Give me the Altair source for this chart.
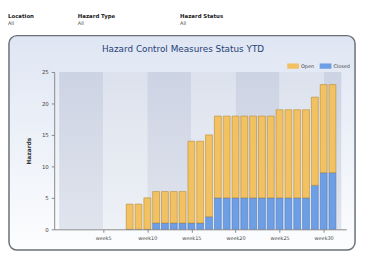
import altair as alt
import pandas as pd

# ---- data ----
weeks = list(range(8, 32))
total = [4, 4, 5, 6, 6, 6, 6, 14, 14, 15, 18, 18, 18, 18, 18, 18, 18, 19, 19, 19, 19, 21, 23, 23]
closed = [0, 0, 0, 1, 1, 1, 1, 1, 1, 2, 5, 5, 5, 5, 5, 5, 5, 5, 5, 5, 5, 7, 9, 9]
open_ = [t - c for t, c in zip(total, closed)]
statuses = ["Open", "Closed"]
fill_colors = ["#f2c262", "#6e9ee4"]
stroke_colors = ["#b98a35", "#4a78c2"]
x_ticks = [5, 10, 15, 20, 25, 30]
y_ticks = [0, 5, 10, 15, 20, 25]
band_start = [0, 10, 20, 30]
band_end = [5, 15, 25, 32]
light_start = [5, 15, 25]
light_end = [10, 20, 30]
filter_labels = ["Location", "Hazard Type", "Hazard Status"]
filter_values = ["All", "All", "All"]
chart_title = ["Hazard Control Measures Status YTD"]

FONT = "DejaVu Sans"
W, H = 297, 160

rows = []
for w, o, c in zip(weeks, open_, closed):
    rows.append({"week": w, "status": "Closed", "count": c, "ord": 0})
    rows.append({"week": w, "status": "Open", "count": o, "ord": 1})
df = pd.DataFrame(rows)

xscale = alt.Scale(domain=[0, 32], nice=False, zero=False)
xaxis = alt.Axis(values=x_ticks, labelExpr="'week' + datum.value", title=None,
                 labelFontSize=5, labelFont=FONT, labelColor="#444", tickSize=3,
                 tickColor="#888", domainColor="#888", grid=False, labelPadding=3,
                 zindex=1)

def grad(top, bottom):
    return {"gradient": "linear", "x1": 0, "y1": 0, "x2": 0, "y2": 1,
            "stops": [{"offset": 0, "color": top}, {"offset": 1, "color": bottom}]}

box = alt.Chart(pd.DataFrame({"b": [0]})).mark_rect(
    fill=grad("#dfe6f3", "#fcfdfe"), stroke="#6a6f78", strokeWidth=1.5, cornerRadius=8
).encode(x=alt.value(-46), x2=alt.value(306), y=alt.value(-37), y2=alt.value(181))

dark = alt.Chart(pd.DataFrame({"s": band_start, "e": band_end})).mark_rect(
    fill=grad("#ccd3e3", "#e0e4ed")
).encode(x=alt.X("s:Q", scale=xscale, axis=xaxis), x2="e:Q",
         y=alt.value(0), y2=alt.value(H))

light = alt.Chart(pd.DataFrame({"s": light_start, "e": light_end})).mark_rect(
    fill=grad("#dce2ed", "#eef1f6")
).encode(x=alt.X("s:Q", scale=xscale, axis=xaxis), x2="e:Q",
         y=alt.value(0), y2=alt.value(H))

bars = alt.Chart(df).mark_bar(size=7, strokeWidth=0.6).encode(
    x=alt.X("week:Q", scale=xscale, axis=xaxis),
    y=alt.Y("count:Q", stack="zero", scale=alt.Scale(domain=[0, 25], nice=False),
            axis=alt.Axis(values=y_ticks, title="Hazards", titleFontSize=6,
                          titleFont=FONT, titleFontWeight="bold", titleColor="#333",
                          labelFontSize=5.5, labelFont=FONT, labelColor="#444",
                          tickSize=3, tickColor="#888", domainColor="#888",
                          grid=False, titlePadding=10, labelPadding=3, zindex=1)),
    color=alt.Color("status:N", scale=alt.Scale(domain=statuses, range=fill_colors),
                    legend=alt.Legend(orient="none", legendX=237, legendY=-12,
                                      direction="horizontal", title=None,
                                      symbolType="M-1,-0.45L1,-0.45L1,0.45L-1,0.45Z",
                                      symbolSize=144, labelFontSize=5, labelFont=FONT,
                                      labelColor="#444", columnPadding=5, labelOffset=2,
                                      symbolStrokeWidth=0)),
    stroke=alt.Stroke("status:N", scale=alt.Scale(domain=statuses, range=stroke_colors),
                      legend=None),
    order=alt.Order("ord:Q"),
)

title = alt.Chart(pd.DataFrame({"t": chart_title})).mark_text(
    font=FONT, fontSize=9, color="#263f78", align="center", baseline="middle"
).encode(text="t:N", x=alt.value(131), y=alt.value(-23))

headers = []
for lab, val, px in zip(filter_labels, filter_values, [-47, 24, 128]):
    d = pd.DataFrame({"lab": [lab], "val": [val]})
    headers.append(alt.Chart(d).mark_text(font=FONT, fontSize=5.5, fontWeight="bold",
                                          color="#222", align="left", baseline="middle")
                   .encode(text="lab:N", x=alt.value(px), y=alt.value(-57)))
    headers.append(alt.Chart(d).mark_text(font=FONT, fontSize=5, color="#444",
                                          align="left", baseline="middle")
                   .encode(text="val:N", x=alt.value(px), y=alt.value(-50)))

chart = alt.layer(box, dark, light, bars, title, *headers).properties(
    width=W, height=H,
    padding={"left": 47, "top": 63, "right": 12, "bottom": 22},
    autosize=alt.AutoSizeParams(type="none"),
).configure_view(stroke=None).configure(background="white")

chart.save("out.html", embed_options={"renderer": "svg", "actions": False})
